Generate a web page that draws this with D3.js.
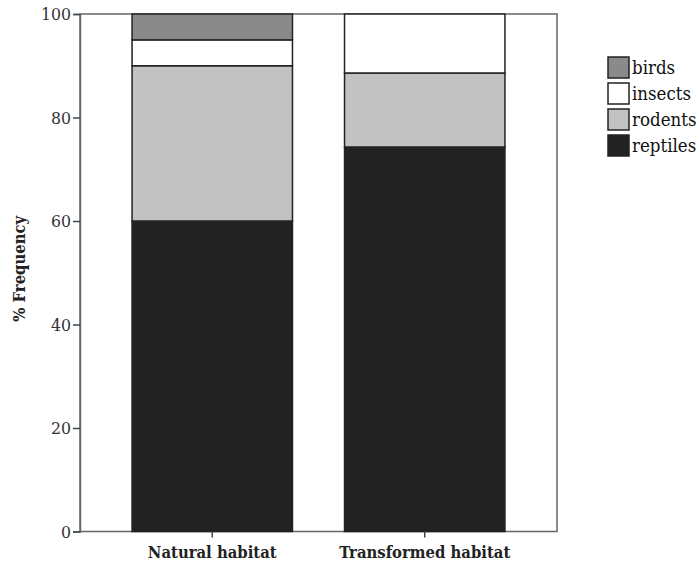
<!DOCTYPE html>
<html><head><meta charset="utf-8">
<script src="https://cdn.jsdelivr.net/npm/d3@7"></script>
<style>body{margin:0;background:#fff}svg{display:block}</style>
</head><body>
<svg id="c" width="700" height="564"></svg>
<script>
const categories = ["Natural habitat", "Transformed habitat"];
const seriesNames = ["reptiles", "rodents", "insects", "birds"];
const reptiles = [60, 74.3];
const rodents = [30, 14.3];
const insects = [5, 11.4];
const birds = [5, 0];
const yTicks = [0, 20, 40, 60, 80, 100];
const legendOrder = ["birds", "insects", "rodents", "reptiles"];

const colors = {birds: "#8a8a8a", insects: "#ffffff", rodents: "#c2c2c2", reptiles: "#222222"};
const valuesBy = {reptiles, rodents, insects, birds};
const FF = "'DejaVu Serif Condensed', 'DejaVu Serif', serif";

const svg = d3.select("#c");
const L = 80, R = 557, T = 14, B = 531.5;
const x = d3.scaleBand().domain(categories).range([L, R]).paddingInner(0.245).paddingOuter(0.245);
const y = d3.scaleLinear().domain([0, 100]).range([B, T]);

const table = categories.map((c, i) => {
  const o = {cat: c};
  seriesNames.forEach(s => o[s] = valuesBy[s][i]);
  return o;
});
const stack = d3.stack().keys(seriesNames)(table);

svg.append("rect").attr("x", L).attr("y", T).attr("width", R - L).attr("height", B - T)
  .attr("fill", "none").attr("stroke", "#666").attr("stroke-width", 1.5);

stack.forEach(layer => {
  svg.append("g").selectAll("rect").data(layer.filter(d => d[1] - d[0] > 0)).join("rect")
    .attr("x", d => x(d.data.cat))
    .attr("width", x.bandwidth())
    .attr("y", d => y(d[1]))
    .attr("height", d => y(d[0]) - y(d[1]))
    .attr("fill", colors[layer.key])
    .attr("stroke", "#222").attr("stroke-width", 1.5);
});

const ya = svg.append("g").attr("transform", `translate(${L},0)`)
  .call(d3.axisLeft(y).tickValues(yTicks).tickSize(7).tickPadding(2));
ya.select(".domain").attr("stroke", "#666").attr("stroke-width", 1.5);
ya.selectAll(".tick line").attr("stroke", "#444").attr("stroke-width", 1.5);
ya.selectAll(".tick text").attr("font-family", FF).attr("font-size", 17.5).attr("fill", "#333");

const xa = svg.append("g").attr("transform", `translate(0,${B})`)
  .call(d3.axisBottom(x).tickSize(6).tickPadding(9));
xa.select(".domain").remove();
xa.selectAll(".tick line").attr("stroke", "#444").attr("stroke-width", 1.5);
xa.selectAll(".tick text").attr("font-family", FF).attr("font-size", 16.5)
  .attr("font-weight", "bold").attr("fill", "#222");

svg.append("text").attr("transform", `translate(25,${(T + B) / 2 - 4}) rotate(-90)`)
  .attr("text-anchor", "middle").attr("font-family", FF)
  .attr("font-size", 16.5).attr("font-weight", "bold").attr("fill", "#222").text("% Frequency");

const lg = svg.append("g").attr("transform", "translate(608,57)");
legendOrder.forEach((k, i) => {
  const g = lg.append("g").attr("transform", `translate(0,${i * 26})`);
  g.append("rect").attr("width", 21).attr("height", 21).attr("fill", colors[k])
    .attr("stroke", "#222").attr("stroke-width", 1.5);
  g.append("text").attr("x", 24).attr("y", 17).attr("font-family", FF)
    .attr("font-size", 18.5).attr("fill", "#111").text(k);
});
</script>
</body></html>
